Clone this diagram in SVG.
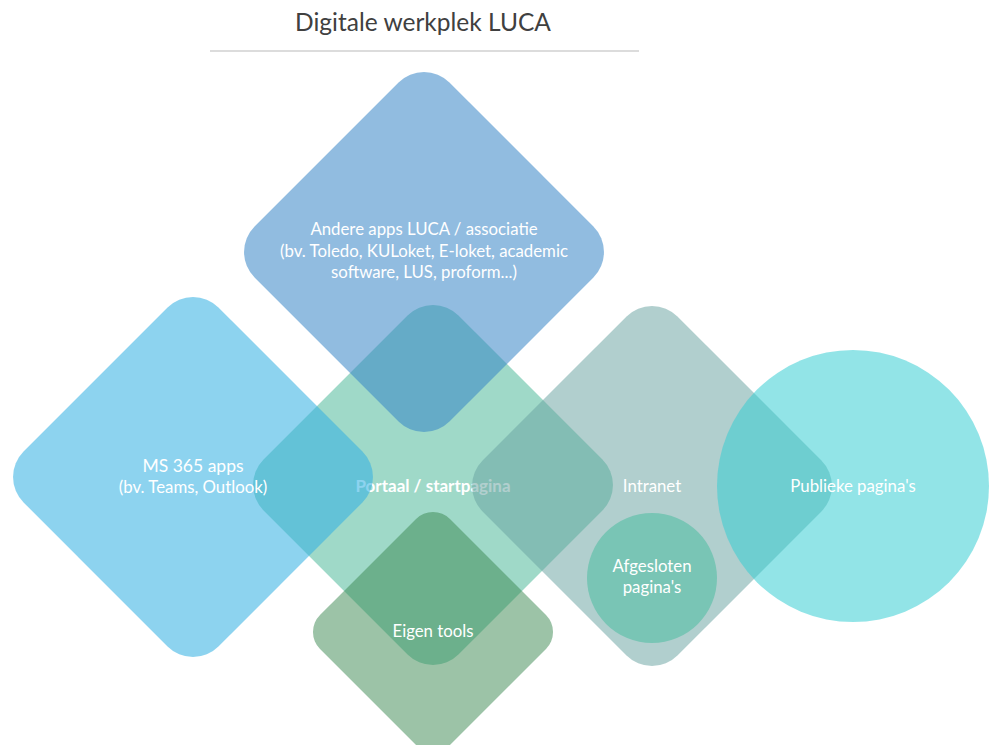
<svg xmlns="http://www.w3.org/2000/svg" width="993" height="745" viewBox="0 0 993 745">
  <style>
    text { font-family: Lato, "Open Sans", "Liberation Sans", sans-serif; fill: #ffffff; text-anchor: middle; }
    .title { fill: #404040; font-size: 24.5px; }
    .lbl { font-size: 16.8px; }
    .big { font-size: 17.5px; }
    .bold { font-weight: bold; font-size: 17px; }
  </style>
  <defs>
    <!-- rounded square turned 45°, tip-to-centre 180 -->
    <rect id="diamond" x="-137.8" y="-137.8" width="275.6" height="275.6" rx="36" transform="rotate(45)"/>
    <!-- smaller variant, tip-to-centre 120 -->
    <rect id="diamond-s" x="-91.9" y="-91.9" width="183.8" height="183.8" rx="24" transform="rotate(45)"/>
  </defs>

  <rect width="993" height="745" fill="#ffffff"/>

  <!-- title -->
  <g id="title">
    <text class="title" x="423" y="31">Digitale werkplek LUCA</text>
    <line x1="210" y1="51" x2="639" y2="51" stroke="#d0d0d0" stroke-width="1.5"/>
  </g>

  <!-- central portal, drawn first so the others overlay it -->
  <g id="portaal" transform="translate(433,485)">
    <use href="#diamond" fill="#9fd9c8"/>
    <text class="bold" x="0" y="7">Portaal / startpagina</text>
  </g>

  <g id="andere-apps" transform="translate(424,252)">
    <use href="#diamond" fill="rgb(51,131,198)" fill-opacity="0.54"/>
    <text class="lbl" x="0" y="-17">Andere apps LUCA / associatie</text>
    <text class="lbl" x="0" y="5">(bv. Toledo, KULoket, E-loket, academic</text>
    <text class="lbl" x="0" y="26">software, LUS, proform...)</text>
  </g>

  <g id="ms365" transform="translate(193,477)">
    <use href="#diamond" fill="rgb(51,176,226)" fill-opacity="0.56"/>
    <text class="big" x="0" y="-5">MS 365 apps</text>
    <text class="lbl" x="0" y="16">(bv. Teams, Outlook)</text>
  </g>

  <g id="intranet" transform="translate(652,486)">
    <use href="#diamond" fill="rgb(105,163,161)" fill-opacity="0.52"/>
    <text class="lbl" x="0" y="6">Intranet</text>
  </g>

  <g id="eigen-tools" transform="translate(433,632)">
    <use href="#diamond-s" fill="rgb(57,135,79)" fill-opacity="0.5"/>
    <text class="lbl" x="0" y="5">Eigen tools</text>
  </g>

  <g id="afgesloten" transform="translate(652,578)">
    <circle r="65" fill="#79c5b5"/>
    <text class="lbl" x="0" y="-6">Afgesloten</text>
    <text class="lbl" x="0" y="15">pagina's</text>
  </g>

  <g id="publiek" transform="translate(853,486)">
    <circle r="136" fill="rgb(53,205,211)" fill-opacity="0.54"/>
    <text class="lbl" x="0" y="6">Publieke pagina's</text>
  </g>
</svg>
